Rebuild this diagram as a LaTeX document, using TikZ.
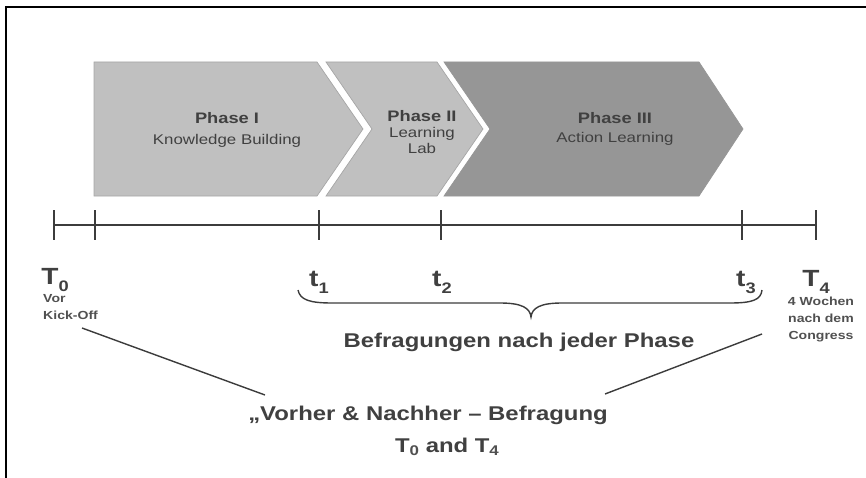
\documentclass[tikz,border=0pt]{standalone}
\usepackage{fontspec}
\setmainfont{Liberation Sans}[FakeStretch=1.2]
\definecolor{txtgray}{HTML}{404040}
\definecolor{subgray}{HTML}{505050}
\definecolor{lightph}{HTML}{C0C0C0}
\definecolor{darkph}{HTML}{969696}
\definecolor{edgegray}{HTML}{A6A6A6}
\definecolor{axisgray}{HTML}{3C3C3C}
\tikzset{
  phasebox/.style={fill=lightph, draw=edgegray, line width=0.6pt},
  phasetxt/.style={text=txtgray, align=center, inner sep=0pt, font=\fontsize{12}{13.6}\selectfont},
  axis/.style={draw=axisgray, line width=2.5pt},
  tickmark/.style={draw=axisgray, line width=1.7pt},
  tlabel/.style={text=txtgray, anchor=base, inner sep=0pt, font=\bfseries\fontsize{20}{20}\selectfont},
  note/.style={text=subgray, inner sep=0pt, font=\bfseries\fontsize{10}{14.5}\selectfont},
  caption/.style={text=txtgray, anchor=base, inner sep=0pt, font=\bfseries\fontsize{17}{17}\selectfont},
  leader/.style={draw=axisgray, line width=1.2pt}
}
\newcommand{\sublow}[1]{\raisebox{-6pt}{\fontsize{13}{13}\selectfont #1}}
\begin{document}
\begin{tikzpicture}[x=0.03cm,y=-0.03cm]
  \useasboundingbox (0,0) rectangle (866,478);
  \draw[line width=1.7pt] (866,7) -- (6,7) -- (6,478);

  % phases
  \draw[phasebox] (94,62) -- (317,62) -- (363,129) -- (317,196) -- (94,196) -- cycle;
  \draw[phasebox] (326,62) -- (437,62) -- (483,129) -- (437,196) -- (326,196) -- (372,129) -- cycle;
  \draw[phasebox, fill=darkph, draw=darkph] (444,62) -- (699,62) -- (743,129) -- (699,196) -- (444,196) -- (490,129) -- cycle;
  \node[phasetxt] (ph1) at (227,130) {{\bfseries\fontsize{13}{13}\selectfont Phase I}\\[4pt]Knowledge Building};
  \node[phasetxt] (ph2) at (422,132) {{\bfseries\fontsize{13}{13}\selectfont Phase II}\\Learning\\Lab};
  \node[phasetxt] (ph3) at (615,129) {{\bfseries\fontsize{13}{13}\selectfont Phase III}\\[3pt]Action Learning};

  % timeline
  \draw[axis] (54,225) -- (816,225);
  \foreach \x/\n in {54/a,95/b,319/c,441/d,742/e,816/f}
    \draw[tickmark] (\x,210) coordinate (tk\n) -- (\x,240);

  \node[tlabel] (T0) at (55,284) {T\sublow{0}};
  \node[tlabel] (t1) at (319,286) {t\sublow{1}};
  \node[tlabel] (t2) at (442,286) {t\sublow{2}};
  \node[tlabel] (t3) at (746,286) {t\sublow{3}};
  \node[tlabel] (T4) at (816,286) {T\sublow{4}};

  \node[note, anchor=north west, align=left] (kickoff) at (43,294) {Vor\\Kick-Off};
  \node[note, anchor=north, align=center] (congress) at (821,297) {4 Wochen\\nach dem\\Congress};

  % brace
  \draw[leader] (298,290) .. controls (300,300) and (310,303) .. (332,303) -- (500,303)
    .. controls (522,303) and (530,308) .. (531,317)
    .. controls (532,308) and (540,303) .. (562,303) -- (730,303)
    .. controls (752,303) and (761,300) .. (762,290);
  \node[caption] (each) at (519,347) {Befragungen nach jeder Phase};

  \node[caption] (prepost) at (428,420) {„Vorher \& Nachher – Befragung};
  \node[caption] (t04) at (447,452) {T\raisebox{-3pt}{\fontsize{12}{12}\selectfont\color{subgray}0} and T\raisebox{-3pt}{\fontsize{12}{12}\selectfont\color{subgray}4}};

  \coordinate (kL) at (82,328);
  \coordinate (pL) at (265,395);
  \coordinate (kR) at (762,334);
  \coordinate (pR) at (605,394);
  \draw[leader] (kL) -- (pL);
  \draw[leader] (kR) -- (pR);
\end{tikzpicture}
\end{document}
